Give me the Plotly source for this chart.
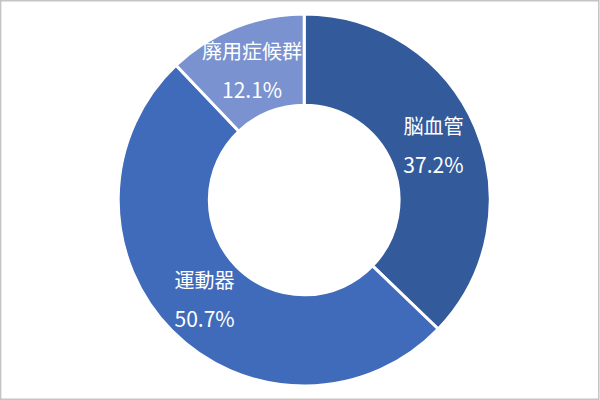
import plotly.graph_objects as go

labels = ['脳血管', '運動器', '廃用症候群']
values = [37.2, 50.7, 12.1]
colors = ['#335A9A', '#406BBA', '#7A92CF']
pct_text = ['37.2%', '50.7%', '12.1%']

# base font sets line spacing, spans set the visible glyph size
fig = go.Figure(go.Pie(
    labels=labels,
    values=values,
    text=pct_text,
    hole=0.51,
    sort=False,
    direction='clockwise',
    rotation=0,
    marker=dict(colors=colors, line=dict(color='white', width=3)),
    texttemplate='<span style="font-size:20px">%{label}</span><br><span style="font-size:21px">%{text}</span>',
    textposition='inside',
    insidetextorientation='horizontal',
    textfont=dict(family='Noto Sans CJK JP', size=30, color='white'),
    domain=dict(x=[0.197, 0.817], y=[0.035, 0.965]),
    showlegend=False,
))

fig.add_shape(type='rect', xref='paper', yref='paper', x0=0.001, y0=0.002, x1=0.998, y1=0.998,
              line=dict(color='#C4C4C4', width=1.5))

fig.update_layout(
    width=600, height=400,
    margin=dict(l=0, r=0, t=0, b=0),
    paper_bgcolor='white',
    plot_bgcolor='white',
    uniformtext=dict(minsize=30, mode='show'),
)

fig.write_html("out.html", config={'displayModeBar': False},
               post_script="document.body.style.margin='0';document.body.style.overflow='hidden';")
